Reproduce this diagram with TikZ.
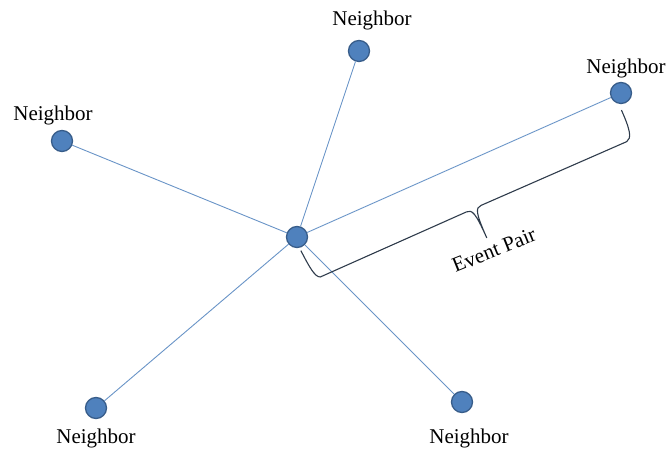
\documentclass[tikz,border=0pt]{standalone}
\usepackage{fontspec}
\setmainfont{Liberation Serif}
\definecolor{nodeblue}{HTML}{4F81BD}
\definecolor{nodeedge}{HTML}{385D8A}
\definecolor{bracegray}{HTML}{2E3B4B}
\begin{document}
\begin{tikzpicture}[x=1pt, y=1pt,
  vert/.style={circle, fill=nodeblue, draw=nodeedge, line width=1.3pt, minimum size=21pt, inner sep=0pt},
  edge/.style={nodeblue!85, line width=0.9pt},
  lbl/.style={font=\fontsize{21}{24}\selectfont, inner sep=0pt}]

\useasboundingbox (0,0) rectangle (669,454);

\node[vert] (C) at (297,217) {};
\node[vert] (T) at (359,403) {};
\node[vert] (R) at (621,361) {};
\node[vert] (L) at (62,313) {};
\node[vert] (BL) at (96,46) {};
\node[vert] (BR) at (462,52) {};

\draw[edge] (C) -- (T);
\draw[edge] (C) -- (R);
\draw[edge] (C) -- (L);
\draw[edge] (C) -- (BL);
\draw[edge] (C) -- (BR);

\node[lbl] (Tlab) at (372,434) {Neighbor};
\node[lbl] (Rlab) at (626,386) {Neighbor};
\node[lbl] (Llab) at (53,339) {Neighbor};
\node[lbl] (BLlab) at (96,16) {Neighbor};
\node[lbl] (BRlab) at (469,16) {Neighbor};

% brace under the edge C--R
\begin{scope}[shift={(C.center)}, rotate=24]
\draw[bracegray, line width=1.1pt] (-2,-14) .. controls (-1,-32) and (0,-44) .. (5,-46) -- (165,-46)
  .. controls (171,-46) and (173,-50) .. (173,-78)
  .. controls (173,-50) and (175,-46) .. (181,-46) -- (340,-47)
  .. controls (346,-46) and (348,-38) .. (348,-16);
\end{scope}
\node[lbl, rotate=22] (EP) at (494,204) {Event Pair};

\end{tikzpicture}
\end{document}
